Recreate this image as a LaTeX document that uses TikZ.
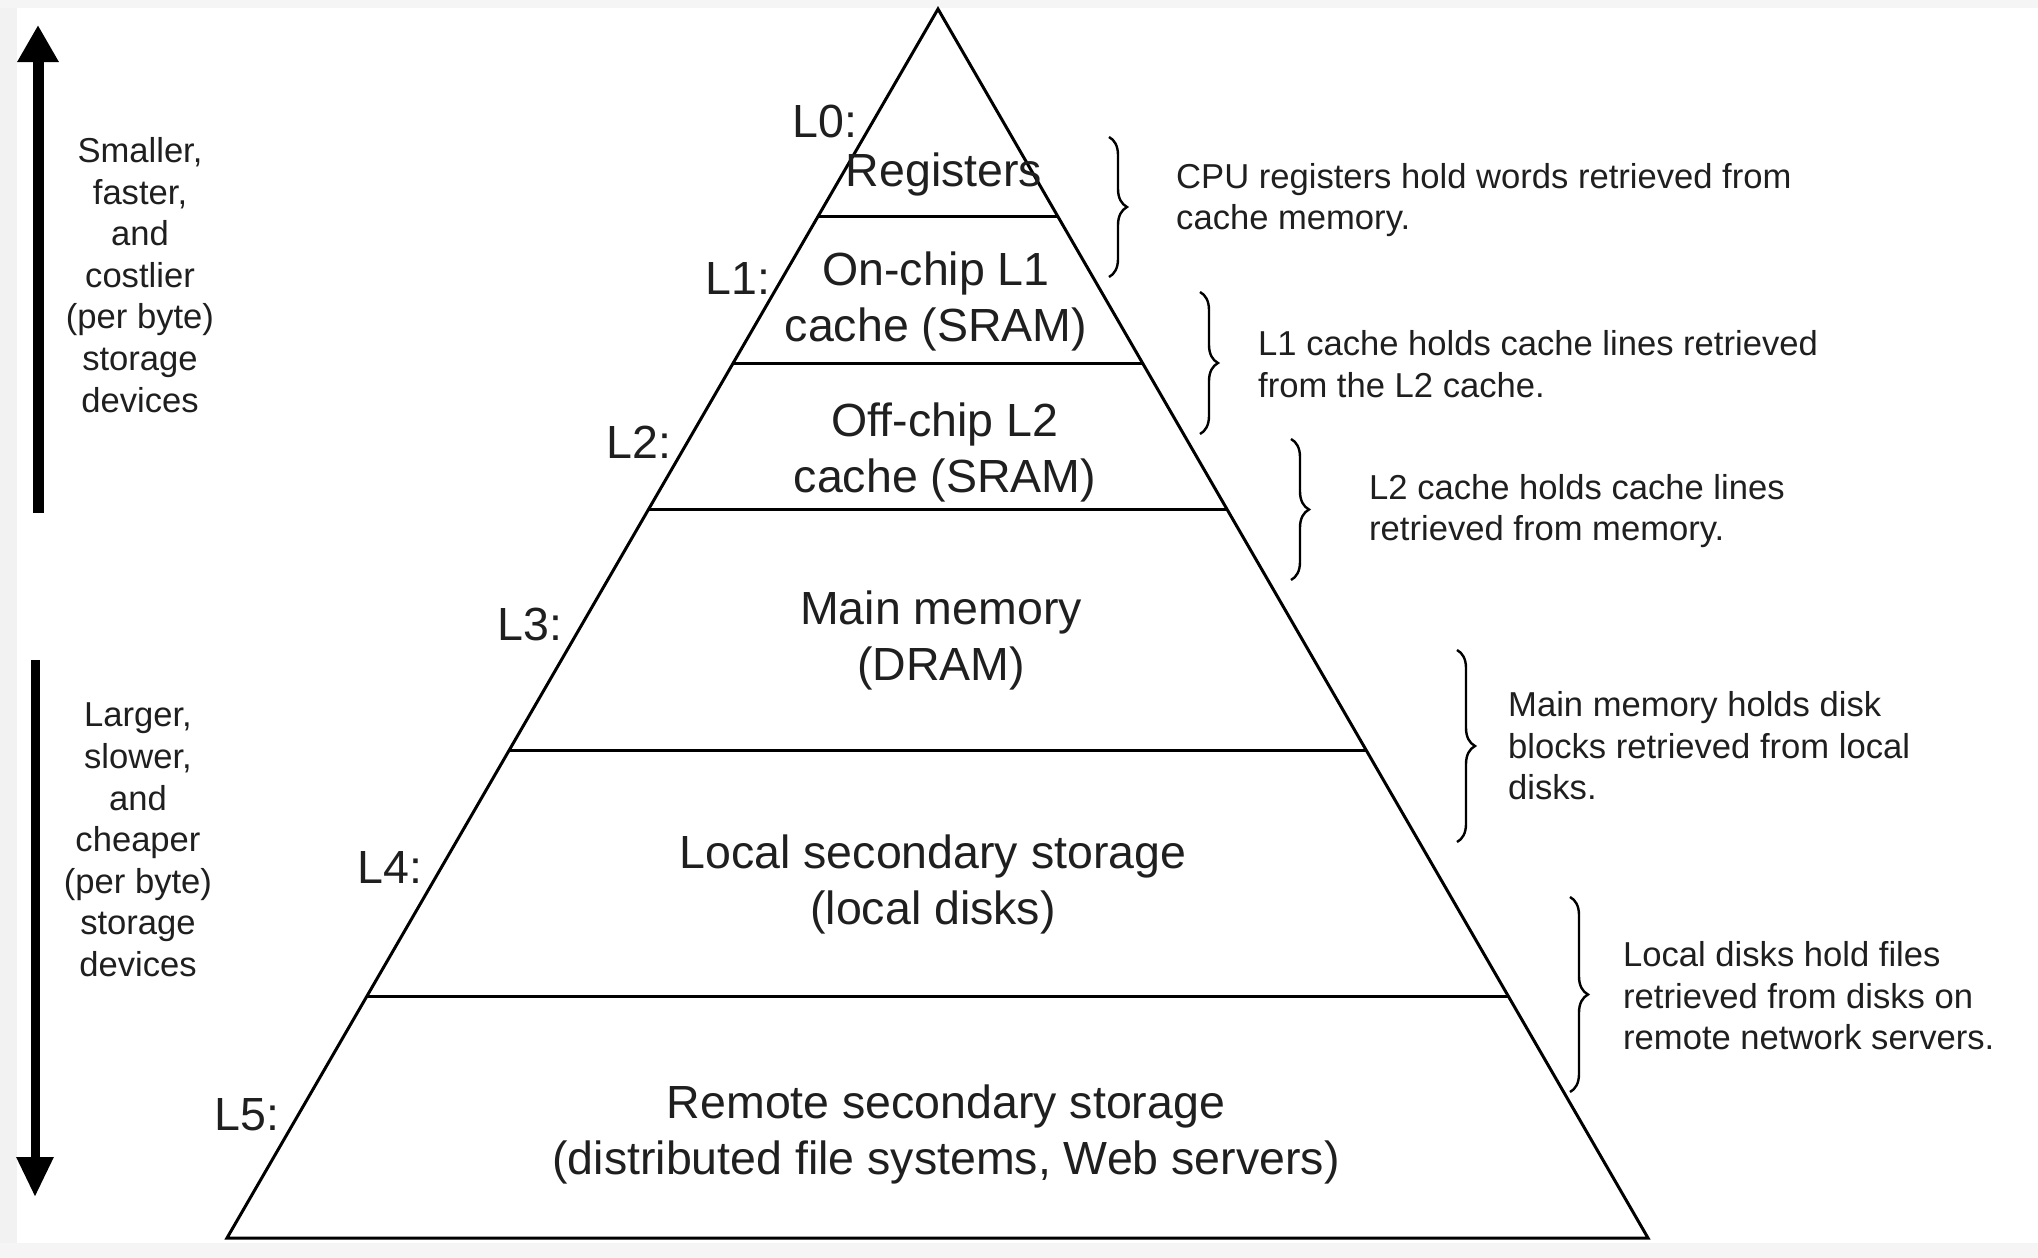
\documentclass[tikz,border=0pt]{standalone}
\usepackage{fontspec}
\setmainfont{Liberation Sans}
\usetikzlibrary{arrows.meta,decorations.pathreplacing,calc}
\begin{document}
\begin{tikzpicture}[x=1pt,y=-1pt,
  big/.style={font=\fontsize{46.5pt}{56pt}\selectfont, align=center, inner sep=0pt, text=black!88},
  small/.style={font=\fontsize{34.6pt}{41.6pt}\selectfont, inner sep=0pt, text=black!88},
  edgeline/.style={line width=3pt, line join=miter},
  layerline/.style={line width=3pt},
  bracestyle/.style={decorate, decoration={brace, amplitude=18pt}, line width=2.4pt},
  uparrow/.style={line width=11pt, -{Triangle[width=39pt,length=37pt]}},
  downarrow/.style={line width=9pt, -{Triangle[width=35pt,length=40pt]}}
]
\useasboundingbox (0,0) rectangle (2038,1258);
\fill[white] (0,0) rectangle (2038,1258);
\fill[black!5] (0,0) rectangle (17,1258);
\fill[black!4] (0,0) rectangle (2038,8);
\fill[black!4] (0,1243) rectangle (2038,1258);

% pyramid
\coordinate (apex) at (938,9);
\coordinate (bl) at (227,1238);
\coordinate (br) at (1648,1238);
\draw[edgeline] (bl) -- (apex) -- (br) -- cycle;
\foreach \t in {0.16924,0.28885,0.40684,0.60293,0.80309}
  \draw[layerline] ($(apex)!\t!(bl)$) -- ($(apex)!\t!(br)$);

% level labels
\node[big] (l0) at (825,121) {L0:};
\node[big] (l1) at (738,279) {L1:};
\node[big] (l2) at (639,442) {L2:};
\node[big] (l3) at (530,624) {L3:};
\node[big] (l4) at (390,867) {L4:};
\node[big] (l5) at (247,1115) {L5:};

% layer texts
\node[big] (reg) at (944,174) {Registers};
\node[big] (onchip) at (936,301) {On-chip L1\\cache (SRAM)};
\node[big] (offchip) at (945,452) {Off-chip L2\\cache (SRAM)};
\node[big] (mainmem) at (941,640) {Main memory\\(DRAM)};
\node[big] (local) at (933,884) {Local secondary storage\\(local disks)};
\node[big] (remote) at (946,1134) {Remote secondary storage\\(distributed file systems, Web servers)};

% left arrows and texts
\coordinate (upS) at (38,513);
\coordinate (upT) at (38,25);
\draw[uparrow] (upS) -- (upT);
\coordinate (dnS) at (35,660);
\coordinate (dnT) at (35,1197);
\draw[downarrow] (dnS) -- (dnT);
\node[small, align=center] (smaller) at (140,275) {Smaller,\\faster,\\and\\costlier\\(per byte)\\storage\\devices};
\node[small, align=center] (larger) at (138,840) {Larger,\\slower,\\and\\cheaper\\(per byte)\\storage\\devices};

% braces
\coordinate (b1t) at (1109,137); \coordinate (b1b) at (1109,277);
\coordinate (b2t) at (1200,292); \coordinate (b2b) at (1200,434);
\coordinate (b3t) at (1291,439); \coordinate (b3b) at (1291,580);
\coordinate (b4t) at (1457,650); \coordinate (b4b) at (1457,842);
\coordinate (b5t) at (1570,897); \coordinate (b5b) at (1570,1092);
\draw[bracestyle] (b1t) -- (b1b);
\draw[bracestyle] (b2t) -- (b2b);
\draw[bracestyle] (b3t) -- (b3b);
\draw[bracestyle] (b4t) -- (b4b);
\draw[bracestyle] (b5t) -- (b5b);

% right texts
\node[small, align=left, anchor=west] (t1) at (1176,200) {CPU registers hold words retrieved from\\cache memory.};
\node[small, align=left, anchor=west] (t2) at (1258,364) {L1 cache holds cache lines retrieved\\from the L2 cache.};
\node[small, align=left, anchor=west] (t3) at (1369,511) {L2 cache holds cache lines\\retrieved from memory.};
\node[small, align=left, anchor=west] (t4) at (1508,746) {Main memory holds disk\\blocks retrieved from local\\disks.};
\node[small, align=left, anchor=west] (t5) at (1623,996) {Local disks hold files\\retrieved from disks on\\remote network servers.};
\end{tikzpicture}
\end{document}
